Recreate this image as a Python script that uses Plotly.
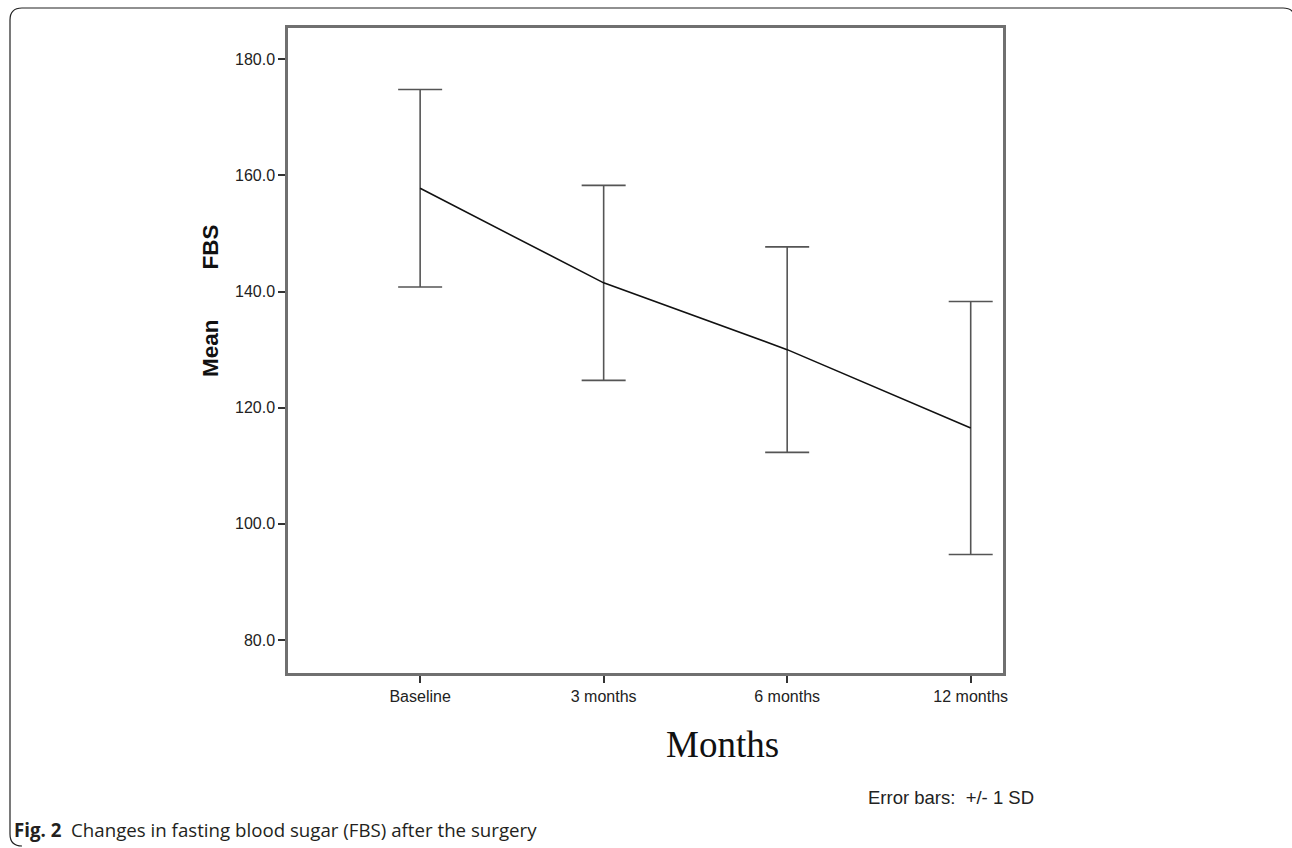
import plotly.graph_objects as go

# ---- data ----
categories = ["Baseline", "3 months", "6 months", "12 months"]
mean_fbs = [157.8, 141.5, 130.0, 116.5]
sd_fbs = [17.0, 16.8, 17.7, 21.8]
y_ticks = [80, 100, 120, 140, 160, 180]
y_tick_labels = ["80.0", "100.0", "120.0", "140.0", "160.0", "180.0"]

W, H = 1292, 848
L, R, T, B = 288, 1003, 28, 673  # plot area in pixels

def px(x):
    return (x - L) / (R - L)

def py(y):
    return (B - y) / (B - T)

xpos = list(range(len(categories)))

fig = go.Figure()
fig.add_trace(go.Scatter(
    x=xpos, y=mean_fbs, mode="lines",
    line=dict(color="#111111", width=1.6),
    error_y=dict(type="data", array=sd_fbs, symmetric=True,
                 color="#555555", thickness=1.6, width=22),
    showlegend=False, hoverinfo="skip",
))

axis_common = dict(showgrid=False, zeroline=False, showline=True,
                   linecolor="#707070", linewidth=2.5, mirror=True,
                   ticks="outside", ticklen=7, tickwidth=1.5, tickcolor="#333333",
                   tickfont=dict(family="Liberation Sans, Arial, sans-serif", size=16, color="#222222"))

fig.update_xaxes(range=[-0.72, 3.176], tickvals=xpos, ticktext=categories, **axis_common)
fig.update_yaxes(range=[74.3, 185.4], tickvals=y_ticks, ticktext=y_tick_labels, **axis_common)

nb = "\u00a0"
annotations = [
    dict(text="<b>Mean" + nb * 8 + "FBS</b>", textangle=-90, x=px(211), y=py(301),
         xref="paper", yref="paper", xanchor="center", yanchor="middle", showarrow=False,
         font=dict(family="Liberation Sans, Arial, sans-serif", size=22.5, color="#111111")),
    dict(text="Months", x=px(722), y=py(744), xref="paper", yref="paper",
         xanchor="center", yanchor="middle", showarrow=False,
         font=dict(family="Liberation Serif, Times New Roman, serif", size=37, color="#111111")),
    dict(text="Error bars:" + nb * 2 + "+/- 1 SD", x=px(866), y=py(797), xref="paper", yref="paper",
         xanchor="left", yanchor="middle", showarrow=False,
         font=dict(family="Liberation Sans, Arial, sans-serif", size=18.5, color="#222222")),
    dict(text="<b>Fig. 2</b>" + nb * 2 + "Changes in fasting blood sugar (FBS) after the surgery",
         x=px(12), y=py(829), xref="paper", yref="paper", xanchor="left", yanchor="middle",
         showarrow=False,
         font=dict(family="Open Sans, sans-serif", size=18.7, color="#231f20")),
]

# outer rounded frame (right edge lies just beyond the visible page)
r = 12
xl, xr, yt, yb = 10, 1295, 8, 846
path = (f"M {px(xr)} {py(yb)} L {px(xr)} {py(yt + r)} "
        f"Q {px(xr)} {py(yt)} {px(xr - r)} {py(yt)} "
        f"L {px(xl + r)} {py(yt)} Q {px(xl)} {py(yt)} {px(xl)} {py(yt + r)} "
        f"L {px(xl)} {py(yb - r)} Q {px(xl)} {py(yb)} {px(xl + r)} {py(yb)}")

fig.update_layout(
    width=W, height=H,
    margin=dict(l=L, r=W - R, t=T, b=H - B),
    paper_bgcolor="white", plot_bgcolor="white",
    annotations=annotations,
    shapes=[dict(type="path", path=path, xref="paper", yref="paper",
                 line=dict(color="#222222", width=1.2))],
)

fig.write_html("out.html", config={"displayModeBar": False},
               post_script="document.body.style.margin='0';document.body.style.overflow='hidden';")
